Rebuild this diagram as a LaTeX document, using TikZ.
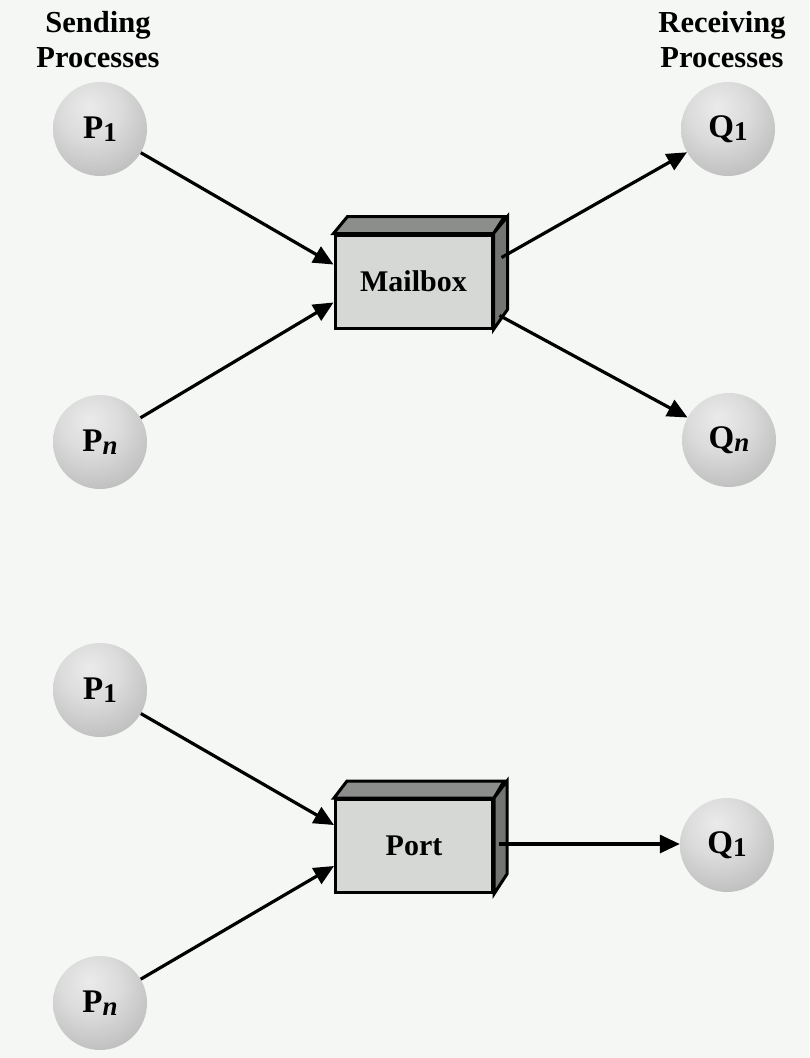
\documentclass[tikz,border=0pt]{standalone}
\usepackage{fontspec}
\setmainfont{Liberation Serif}
\usetikzlibrary{arrows.meta,calc}
\definecolor{bg}{RGB}{244,247,244}
\definecolor{boxfront}{RGB}{214,216,214}
\definecolor{boxtop}{RGB}{140,142,140}
\definecolor{boxside}{RGB}{115,117,115}
\pgfdeclareradialshading{sph}{\pgfpoint{-6bp}{12bp}}{%
  color(0bp)=(gray!16!white); color(16bp)=(gray!28!white);
  color(34bp)=(gray!50!white); color(48bp)=(gray!68!white);
  color(60bp)=(gray!85!white); color(100bp)=(gray!85!white)}
\tikzset{
  proc/.style={circle, minimum size=94pt, inner sep=0pt, shading=sph,
    font=\fontsize{33}{34}\selectfont\bfseries},
  mbox/.style={rectangle, draw=black, line width=3pt, fill=boxfront,
    minimum width=157pt, minimum height=93pt, inner sep=0pt,
    font=\fontsize{30}{32}\selectfont\bfseries},
  face/.style={draw=black, line width=3pt, line join=miter},
  arr/.style={line width=3.2pt, -{Triangle[length=20pt,width=18pt]}},
  head/.style={align=center, font=\fontsize{30.5}{35}\selectfont\bfseries}
}
\newcommand{\sub}[1]{\raisebox{-0.22ex}{\fontsize{27}{28}\selectfont #1}}
\begin{document}
\begin{tikzpicture}[x=1pt,y=-1pt]
\fill[bg] (0,0) rectangle (809,1058);
\useasboundingbox (0,0) rectangle (809,1058);

\node[head] (hs) at (98,40) {Sending\\Processes};
\node[head] (hr) at (722,40) {Receiving\\Processes};

% top
\node[proc] (p1) at (100,129) {P\sub{1}};
\node[proc] (pn) at (100,442) {P\sub{\itshape n}};
\node[proc] (q1) at (728,129) {Q\sub{1}};
\node[proc] (qn) at (729,440) {Q\sub{\itshape n}};
\node[mbox] (mb) at (413.5,281.5) {Mailbox};
\draw[face, fill=boxtop] (mb.north west) -- ++(14,-17) -- ++(157,0) -- (mb.north east) -- cycle;
\draw[face, fill=boxside] (mb.north east) -- ++(14,-17) -- ++(0,93) -- (mb.south east) -- cycle;

\coordinate (mbin1) at ($(mb.west)+(0,-17)$);
\coordinate (mbin2) at ($(mb.west)+(0,21)$);
\coordinate (mbout1) at ($(mb.east)+(8,-24)$);
\coordinate (mbout2) at ($(mb.east)+(6,34)$);
\draw[arr] (p1) -- (mbin1);
\draw[arr] (pn) -- (mbin2);
\draw[arr] (mbout1) -- (q1);
\draw[arr] (mbout2) -- (qn);

% bottom
\node[proc] (p1b) at (100,690) {P\sub{1}};
\node[proc] (pnb) at (100,1003) {P\sub{\itshape n}};
\node[proc] (q1b) at (727,845) {Q\sub{1}};
\node[mbox] (pt) at (414,846) {Port};
\draw[face, fill=boxtop] (pt.north west) -- ++(13,-17) -- ++(157,0) -- (pt.north east) -- cycle;
\draw[face, fill=boxside] (pt.north east) -- ++(13,-17) -- ++(0,93) -- (pt.south east) -- cycle;

\coordinate (ptin1) at ($(pt.west)+(0,-21)$);
\coordinate (ptin2) at ($(pt.west)+(0,20)$);
\coordinate (ptout) at ($(pt.east)+(5,-2)$);
\draw[arr] (p1b) -- (ptin1);
\draw[arr] (pnb) -- (ptin2);
\draw[arr] (ptout) -- (ptout -| q1b.west);
\end{tikzpicture}
\end{document}
